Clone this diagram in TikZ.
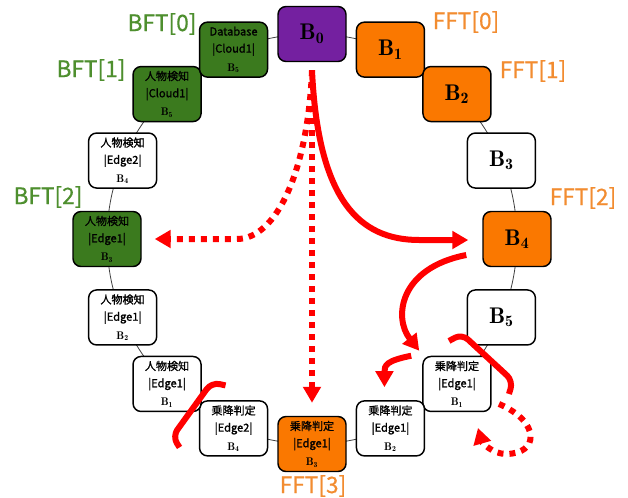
\documentclass[tikz,border=0pt]{standalone}
\usepackage{fontspec}
\newfontfamily\jp[FakeBold=1.2]{Noto Sans CJK JP}
\newfontfamily\jplab[FakeBold=0.6]{Noto Sans CJK JP}
\usetikzlibrary{arrows.meta,calc}
\definecolor{nodegreen}{HTML}{3B7A1E}
\definecolor{nodeorange}{HTML}{FA7800}
\definecolor{nodepurple}{HTML}{7420A0}
\definecolor{labgreen}{HTML}{4E8F2E}
\definecolor{laborange}{HTML}{F28C30}
\definecolor{ringgray}{HTML}{404040}

\begin{document}
\begin{tikzpicture}[x=0.75pt,y=-0.75pt,
  block/.style={draw=black, line width=1.1pt, rounded corners=6pt,
    minimum width=51pt, minimum height=41.25pt, inner sep=0pt,
    fill=white, align=center},
  bigblock/.style={block, font=\fontsize{17}{18}\selectfont},
  taskblock/.style={block, font=\jp\fontsize{8.3}{12.8}\selectfont},
  lab/.style={font=\jplab\fontsize{17}{20}\selectfont, inner sep=0pt},
  flow/.style={draw=red, line width=4.5pt},
  solidarrow/.style={flow, -{Triangle[length=12pt,width=13pt]}},
  dotarrow/.style={flow, dash pattern=on 4.5pt off 4.5pt,
    -{Triangle[length=12pt,width=13pt]}}
]
\useasboundingbox (0,0) rectangle (628,497);

% ring of blocks
\coordinate (c) at (312,239);
\draw[ringgray, line width=0.6pt] (c) circle[radius=205];

\node[bigblock, fill=nodepurple] (b0) at ($(c)+(-90:205)$) {$\mathbf{B}_{\mathbf{0}}$};
\node[bigblock, fill=nodeorange] (b1) at ($(c)+(-67.5:205)$) {$\mathbf{B}_{\mathbf{1}}$};
\node[bigblock, fill=nodeorange] (b2) at ($(c)+(-45:205)$) {$\mathbf{B}_{\mathbf{2}}$};
\node[bigblock] (b3) at ($(c)+(-22.5:205)$) {$\mathbf{B}_{\mathbf{3}}$};
\node[bigblock, fill=nodeorange] (b4) at ($(c)+(0:205)$) {$\mathbf{B}_{\mathbf{4}}$};
\node[bigblock] (b5) at ($(c)+(22.5:205)$) {$\mathbf{B}_{\mathbf{5}}$};

\node[taskblock] (j1) at ($(c)+(45:205)$) {乗降判定\\|Edge1|\\[1pt]$\mathbf{B}_{\mathbf{1}}$};
\node[taskblock] (j2) at ($(c)+(67.5:205)$) {乗降判定\\|Edge1|\\[1pt]$\mathbf{B}_{\mathbf{2}}$};
\node[taskblock, fill=nodeorange] (j3) at ($(c)+(90:205)$) {乗降判定\\|Edge1|\\[1pt]$\mathbf{B}_{\mathbf{3}}$};
\node[taskblock] (j4) at ($(c)+(112.5:205)$) {乗降判定\\|Edge2|\\[1pt]$\mathbf{B}_{\mathbf{4}}$};
\node[taskblock] (p1) at ($(c)+(135:205)$) {人物検知\\|Edge1|\\[1pt]$\mathbf{B}_{\mathbf{1}}$};
\node[taskblock] (p2) at ($(c)+(157.5:205)$) {人物検知\\|Edge1|\\[1pt]$\mathbf{B}_{\mathbf{2}}$};
\node[taskblock, fill=nodegreen] (p3) at ($(c)+(180:205)$) {人物検知\\|Edge1|\\[1pt]$\mathbf{B}_{\mathbf{3}}$};
\node[taskblock] (p4) at ($(c)+(202.5:205)$) {人物検知\\|Edge2|\\[1pt]$\mathbf{B}_{\mathbf{4}}$};
\node[taskblock, fill=nodegreen] (p5) at ($(c)+(225:205)$) {人物検知\\|Cloud1|\\[1pt]$\mathbf{B}_{\mathbf{5}}$};
\node[taskblock, fill=nodegreen] (db) at ($(c)+(247.5:205)$) {Database\\|Cloud1|\\[1pt]$\mathbf{B}_{\mathbf{5}}$};

% tags
\node[lab, text=labgreen] (bft0) at (162,24) {BFT[0]};
\node[lab, text=labgreen] (bft1) at (91,70) {BFT[1]};
\node[lab, text=labgreen] (bft2) at (48,197) {BFT[2]};
\node[lab, text=laborange] (fft0) at (466,22) {FFT[0]};
\node[lab, text=laborange] (fft1) at (533,71) {FFT[1]};
\node[lab, text=laborange] (fft2) at (583,198) {FFT[2]};
\node[lab, text=laborange] (fft3) at (313,486) {FFT[3]};

% flows out of B0
\draw[dotarrow] ($(b0.south)+(0,8)$) -- ($(j3.north)+(0,-13)$);
\draw[dotarrow] ($(b0.south)+(0,8)$) .. controls +(-4,100) and +(40,0) .. ($(p3.east)+(95,0)$) -- ($(p3.east)+(13,0)$);
\draw[solidarrow] ($(b0.south)+(0,8)$) .. controls +(6,130) and +(-60,0) .. ($(b4.west)+(-63,1)$) -- ($(b4.west)+(-14,1)$);

% flows on the right side
\draw[solidarrow] ($(b4.west)+(-16,16)$) .. controls +(-67,13) and +(-26,-33) .. ($(j1.north west)+(-3,-5)$);
\draw[solidarrow] ($(j1.north west)+(-11,0)$) .. controls +(-25,5) and +(0,-22) .. ($(j2.north)+(-6,-13)$);
\draw[flow, rounded corners=6pt] ($(j1)+(-8,-43)$) -- ($(j1)+(5,-50)$) -- ($(j1)+(56,-3)$) -- ($(j1)+(52,10)$);
\draw[dotarrow] ($(j1)+(42,20)$) .. controls +(42,18) and +(33,0) .. ($(j1)+(49,70)$)
  .. controls +(-14,0) and +(4,14) .. ($(j1)+(21,44)$);

% bracket on the left side
\draw[flow, rounded corners=6pt] ($(j4)+(-54,19)$) -- ($(j4)+(-61,8)$) -- ($(j4)+(-22,-46)$) -- ($(j4)+(-8,-43)$);
\end{tikzpicture}
\end{document}
